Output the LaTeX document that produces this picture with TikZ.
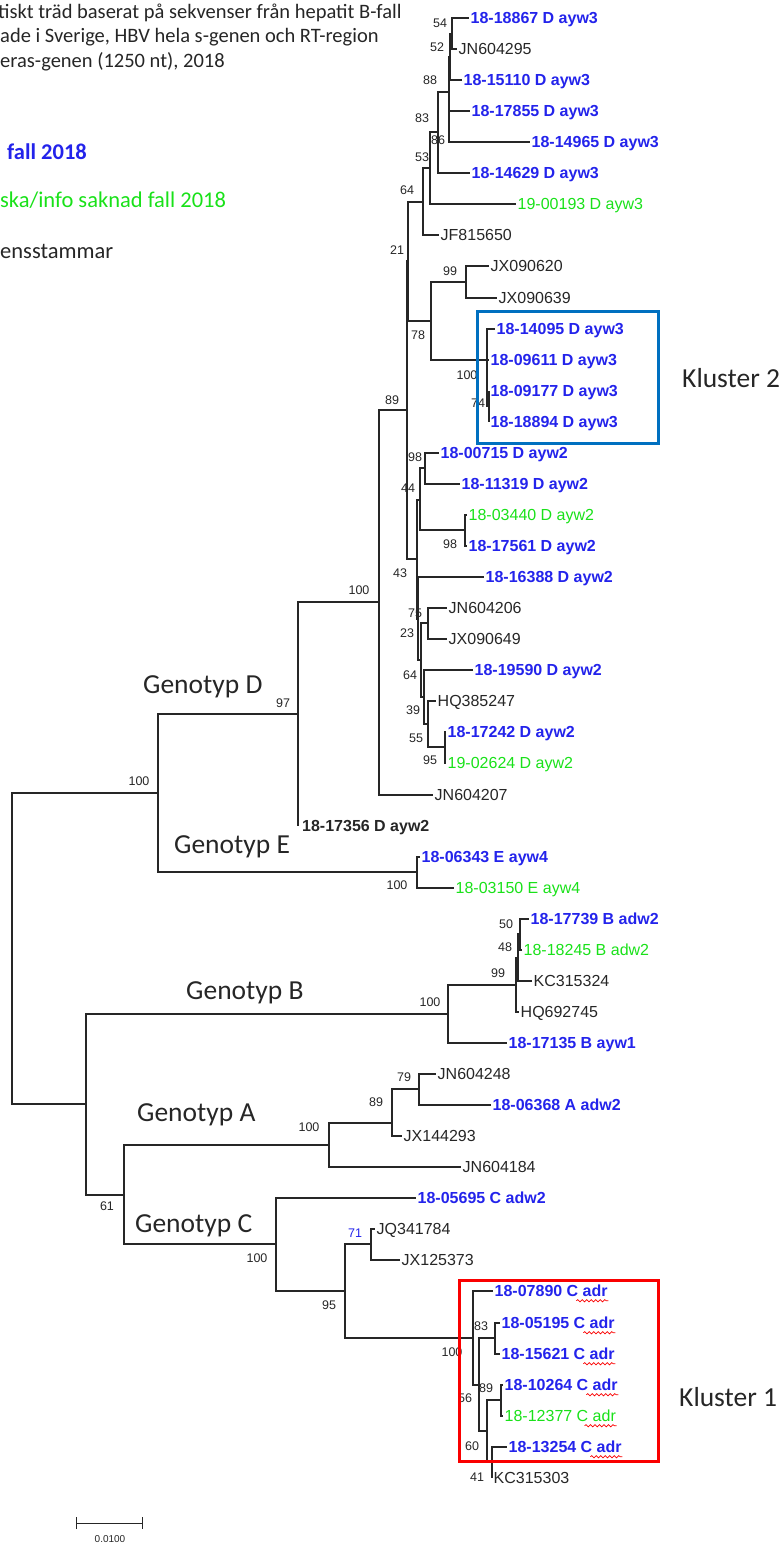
\documentclass[tikz,border=0pt]{standalone}
\usepackage{fontspec}
\setmainfont{Carlito}
\newfontfamily\arialf{Liberation Sans}
\usetikzlibrary{arrows.meta,decorations.pathmorphing}
\definecolor{fallblue}{RGB}{35,35,235}
\definecolor{fallgreen}{RGB}{25,225,25}
\definecolor{boxblue}{RGB}{0,112,192}
\definecolor{boxred}{RGB}{250,0,0}

\begin{document}
\begin{tikzpicture}[x=1pt,y=-1pt,
    br/.style={line width=1.2pt, black!85},
    leaf/.style={anchor=west, inner sep=1.5pt, text height=11.5pt, text depth=0pt,
      font=\arialf\fontsize{16}{18}\selectfont},
    ref/.style={leaf, text=black!85},
    fall/.style={leaf, text=fallblue, font=\arialf\bfseries\fontsize{16}{18}\selectfont},
    ovr/.style={leaf, text=fallgreen},
    boot/.style={inner sep=0pt, text=black!85, font=\arialf\fontsize{12.5}{14}\selectfont},
    geno/.style={anchor=west, inner sep=0pt, text=black!85, font=\fontsize{27.5}{30}\selectfont},
    head/.style={anchor=west, inner sep=0pt, text=black!85, font=\fontsize{20.5}{24}\selectfont},
    legtxt/.style={anchor=west, inner sep=0pt, font=\fontsize{22.5}{26}\selectfont},
    squig/.style={boxred, line width=0.7pt, decorate,
      decoration={snake, amplitude=1.1pt, segment length=4.5pt}}
  ]
  \useasboundingbox (0,0) rectangle (783,1544);

  % Rubrik
  \node[head] (title1) at (-2,13) {tiskt träd baserat på sekvenser från hepatit B-fall};
  \node[head] (title2) at (0,37) {ade i Sverige, HBV hela s-genen och RT-region};
  \node[head] (title3) at (0,62) {eras-genen (1250 nt), 2018};

  % Legend
  \node[legtxt, text=fallblue, font=\bfseries\fontsize{22.5}{26}\selectfont] (legblue) at (7,152) {fall 2018};
  \node[legtxt, text=fallgreen] (leggreen) at (0,200) {ska/info saknad fall 2018};
  \node[legtxt, text=black!85] (legref) at (0,251) {ensstammar};

  % Blad, genotyp D ayw3
  \node[fall] (l18867) at (469,18) {18-18867 D ayw3};
  \node[ref] (jn604295) at (457,49) {JN604295};
  \node[fall] (l15110) at (462,80) {18-15110 D ayw3};
  \node[fall] (l17855) at (470,111) {18-17855 D ayw3};
  \node[fall] (l14965) at (530,142) {18-14965 D ayw3};
  \node[fall] (l14629) at (470,173) {18-14629 D ayw3};
  \node[ovr] (l00193) at (516,204) {19-00193 D ayw3};
  \node[ref] (jf815650) at (439,235) {JF815650};
  \node[ref] (jx090620) at (489,266) {JX090620};
  \node[ref] (jx090639) at (497,298) {JX090639};
  \node[fall] (l14095) at (495,329) {18-14095 D ayw3};
  \node[fall] (l09611) at (489,360) {18-09611 D ayw3};
  \node[fall] (l09177) at (489,391) {18-09177 D ayw3};
  \node[fall] (l18894) at (489,422) {18-18894 D ayw3};
  % genotyp D ayw2
  \node[fall] (l00715) at (439,453) {18-00715 D ayw2};
  \node[fall] (l11319) at (460,484) {18-11319 D ayw2};
  \node[ovr] (l03440) at (467,515) {18-03440 D ayw2};
  \node[fall] (l17561) at (467,546) {18-17561 D ayw2};
  \node[fall] (l16388) at (484,577) {18-16388 D ayw2};
  \node[ref] (jn604206) at (447,608) {JN604206};
  \node[ref] (jx090649) at (447,639) {JX090649};
  \node[fall] (l19590) at (473,670) {18-19590 D ayw2};
  \node[ref] (hq385247) at (436,701) {HQ385247};
  \node[fall] (l17242) at (446,732) {18-17242 D ayw2};
  \node[ovr] (l02624) at (446,763) {19-02624 D ayw2};
  \node[ref] (jn604207) at (433,795) {JN604207};
  \node[ref, font=\arialf\bfseries\fontsize{16}{18}\selectfont, inner xsep=4pt] (l17356) at (298,826) {18-17356 D ayw2};
  % genotyp E
  \node[fall] (l06343) at (420,857) {18-06343 E ayw4};
  \node[ovr] (l03150) at (454,888) {18-03150 E ayw4};
  % genotyp B
  \node[fall] (l17739) at (529,919) {18-17739 B adw2};
  \node[ovr] (l18245) at (522,950) {18-18245 B adw2};
  \node[ref] (kc315324) at (532,981) {KC315324};
  \node[ref] (hq692745) at (519,1012) {HQ692745};
  \node[fall] (l17135) at (507,1043) {18-17135 B ayw1};
  % genotyp A
  \node[ref] (jn604248) at (436,1074) {JN604248};
  \node[fall] (l06368) at (491,1105) {18-06368 A adw2};
  \node[ref] (jx144293) at (402,1136) {JX144293};
  \node[ref] (jn604184) at (461,1167) {JN604184};
  % genotyp C
  \node[fall] (l05695) at (416,1198) {18-05695 C adw2};
  \node[ref] (jq341784) at (375,1229) {JQ341784};
  \node[ref] (jx125373) at (400,1260) {JX125373};
  \node[fall] (l07890) at (493,1291) {18-07890 C adr};
  \node[fall] (l05195) at (500,1323) {18-05195 C adr};
  \node[fall] (l15621) at (500,1354) {18-15621 C adr};
  \node[fall] (l10264) at (503,1385) {18-10264 C adr};
  \node[ovr] (l12377) at (503,1416) {18-12377 C adr};
  \node[fall] (l13254) at (507,1447) {18-13254 C adr};
  \node[ref] (kc315303) at (492,1478) {KC315303};

  % inre noder
  \coordinate (n54) at (452,34);
  \coordinate (n52) at (450,57);
  \coordinate (n83) at (449,126);
  \coordinate (n88) at (449,92);
  \coordinate (n86) at (438,132);
  \coordinate (n53) at (430,168);
  \coordinate (n64) at (423,202);
  \coordinate (n99) at (466,282);
  \coordinate (n74) at (489,406);
  \coordinate (nk2) at (487,360);
  \coordinate (n78) at (431,321);
  \coordinate (n21) at (408,261);
  \coordinate (nb98) at (425,468);
  \coordinate (na98) at (465,530);
  \coordinate (nc44) at (420,500);
  \coordinate (n75) at (428,623);
  \coordinate (n95) at (445,747);
  \coordinate (n39) at (428,724);
  \coordinate (nz) at (424,697);
  \coordinate (ny) at (421,660);
  \coordinate (nx) at (418,619);
  \coordinate (n43) at (417,559);
  \coordinate (n89) at (407,410);
  \coordinate (nd100) at (379,602);
  \coordinate (nd97) at (298,714);
  \coordinate (ne100) at (417,872);
  \coordinate (nde) at (158,793);
  \coordinate (n50) at (520,934);
  \coordinate (n48) at (518,958);
  \coordinate (n99b) at (516,985);
  \coordinate (nb100) at (448,1014);
  \coordinate (n79) at (419,1089);
  \coordinate (n89a) at (392,1123);
  \coordinate (na100) at (329,1145);
  \coordinate (n71) at (371,1244);
  \coordinate (n83c) at (495,1338);
  \coordinate (n89c) at (501,1400);
  \coordinate (n41) at (492,1462);
  \coordinate (n60) at (487,1431);
  \coordinate (n56) at (479,1385);
  \coordinate (nk1) at (473,1338);
  \coordinate (n95c) at (345,1291);
  \coordinate (nc100) at (276,1244);
  \coordinate (n61) at (124,1195);
  \coordinate (nbac) at (86,1104);
  \coordinate (root) at (12,949);

  % grenar
  \foreach \a/\b in {n54/l18867, n54/jn604295, n52/n54, n52/l15110,
      n83/l17855, n83/l14965, n88/n52, n88/n83, n86/n88, n86/l14629,
      n53/n86, n53/l00193, n64/n53, n64/jf815650,
      n99/jx090620, n99/jx090639, n74/l09177, n74/l18894,
      nk2/l14095, nk2/l09611, nk2/n74, n78/n99, n78/nk2, n21/n64, n21/n78,
      nb98/l00715, nb98/l11319, na98/l03440, na98/l17561, nc44/nb98, nc44/na98,
      n75/jn604206, n75/jx090649, n95/l17242, n95/l02624,
      n39/hq385247, n39/n95, nz/l19590, nz/n39, ny/n75, ny/nz,
      nx/l16388, nx/ny, n43/nc44, n43/nx, n89/n21, n89/n43,
      nd100/n89, nd100/jn604207, nd97/nd100, nd97/l17356,
      ne100/l06343, ne100/l03150, nde/nd97, nde/ne100,
      n50/l17739, n50/l18245, n48/n50, n48/kc315324,
      n99b/n48, n99b/hq692745, nb100/n99b, nb100/l17135,
      n79/jn604248, n79/l06368, n89a/n79, n89a/jx144293,
      na100/n89a, na100/jn604184, n71/jq341784, n71/jx125373,
      n83c/l05195, n83c/l15621, n89c/l10264, n89c/l12377,
      n41/l13254, n41/kc315303, n60/n89c, n60/n41, n56/n83c, n56/n60,
      nk1/l07890, nk1/n56, n95c/n71, n95c/nk1, nc100/l05695, nc100/n95c,
      n61/na100, n61/nc100, nbac/nb100, nbac/n61, root/nde, root/nbac}
    \draw[br] (\a) |- (\b.west);

  % bootstrap
  \node[boot] (b54) at (440,23) {54};
  \node[boot] (b52) at (437,47) {52};
  \node[boot] (b88) at (430,80) {88};
  \node[boot] (b83) at (422,118) {83};
  \node[boot] (b86) at (438,140) {86};
  \node[boot] (b53) at (422,157) {53};
  \node[boot] (b64) at (407,190) {64};
  \node[boot] (b21) at (397,250) {21};
  \node[boot] (b99) at (450,271) {99};
  \node[boot] (b78) at (418,335) {78};
  \node[boot] (bk2) at (467,375) {100};
  \node[boot] (b74) at (478,403) {74};
  \node[boot] (b89) at (392,400) {89};
  \node[boot] (b98a) at (415,457) {98};
  \node[boot] (b44) at (408,488) {44};
  \node[boot] (b98b) at (450,544) {98};
  \node[boot] (b43) at (400,573) {43};
  \node[boot] (bd100) at (359,590) {100};
  \node[boot] (b75) at (415,613) {75};
  \node[boot] (b23) at (407,633) {23};
  \node[boot] (b64b) at (410,675) {64};
  \node[boot] (b39) at (413,710) {39};
  \node[boot] (b55) at (416,738) {55};
  \node[boot] (b95) at (430,760) {95};
  \node[boot] (b97) at (283,703) {97};
  \node[boot] (bde) at (139,781) {100};
  \node[boot] (be100) at (397,885) {100};
  \node[boot] (b50) at (506,924) {50};
  \node[boot] (b48) at (505,947) {48};
  \node[boot] (b99b) at (498,973) {99};
  \node[boot] (bb100) at (430,1002) {100};
  \node[boot] (b79) at (404,1077) {79};
  \node[boot] (b89a) at (376,1102) {89};
  \node[boot] (ba100) at (309,1127) {100};
  \node[boot] (b61) at (107,1206) {61};
  \node[boot] (bc100) at (257,1258) {100};
  \node[boot, text=fallblue] (b71) at (355,1233) {71};
  \node[boot] (b95c) at (329,1305) {95};
  \node[boot] (bk1) at (452,1352) {100};
  \node[boot] (b83c) at (481,1326) {83};
  \node[boot] (b89c) at (486,1388) {89};
  \node[boot] (b56) at (465,1398) {56};
  \node[boot] (b60) at (472,1446) {60};
  \node[boot] (b41) at (477,1477) {41};

  % genotyper
  \node[geno] (gd) at (143,687) {Genotyp D};
  \node[geno] (ge) at (174,847) {Genotyp E};
  \node[geno] (gb) at (186,993) {Genotyp B};
  \node[geno] (ga) at (137,1115) {Genotyp A};
  \node[geno] (gc) at (135,1226) {Genotyp C};

  % kluster
  \draw[boxblue, line width=3pt] (477,311) rectangle (658,443);
  \node[geno] (kl2) at (682,378) {Kluster 2};
  \draw[boxred, line width=3pt] (459,1280) rectangle (658,1461);
  \node[geno] (kl1) at (679,1397) {Kluster 1};
  \foreach \k in {l07890,l05195,l15621,l10264,l12377,l13254}
    \draw[squig] ([xshift=-33pt,yshift=-4pt]\k.base east) -- ([xshift=-1pt,yshift=-4pt]\k.base east);

  % skala
  \coordinate (sbl) at (76,1523);
  \coordinate (sbr) at (143,1523);
  \draw[br, line width=1pt, {Bar[width=12pt]}-{Bar[width=12pt]}] (sbl) -- (sbr);
  \node[boot, font=\arialf\fontsize{10}{12}\selectfont] (sbtxt) at (110,1539) {0.0100};
\end{tikzpicture}
\end{document}
